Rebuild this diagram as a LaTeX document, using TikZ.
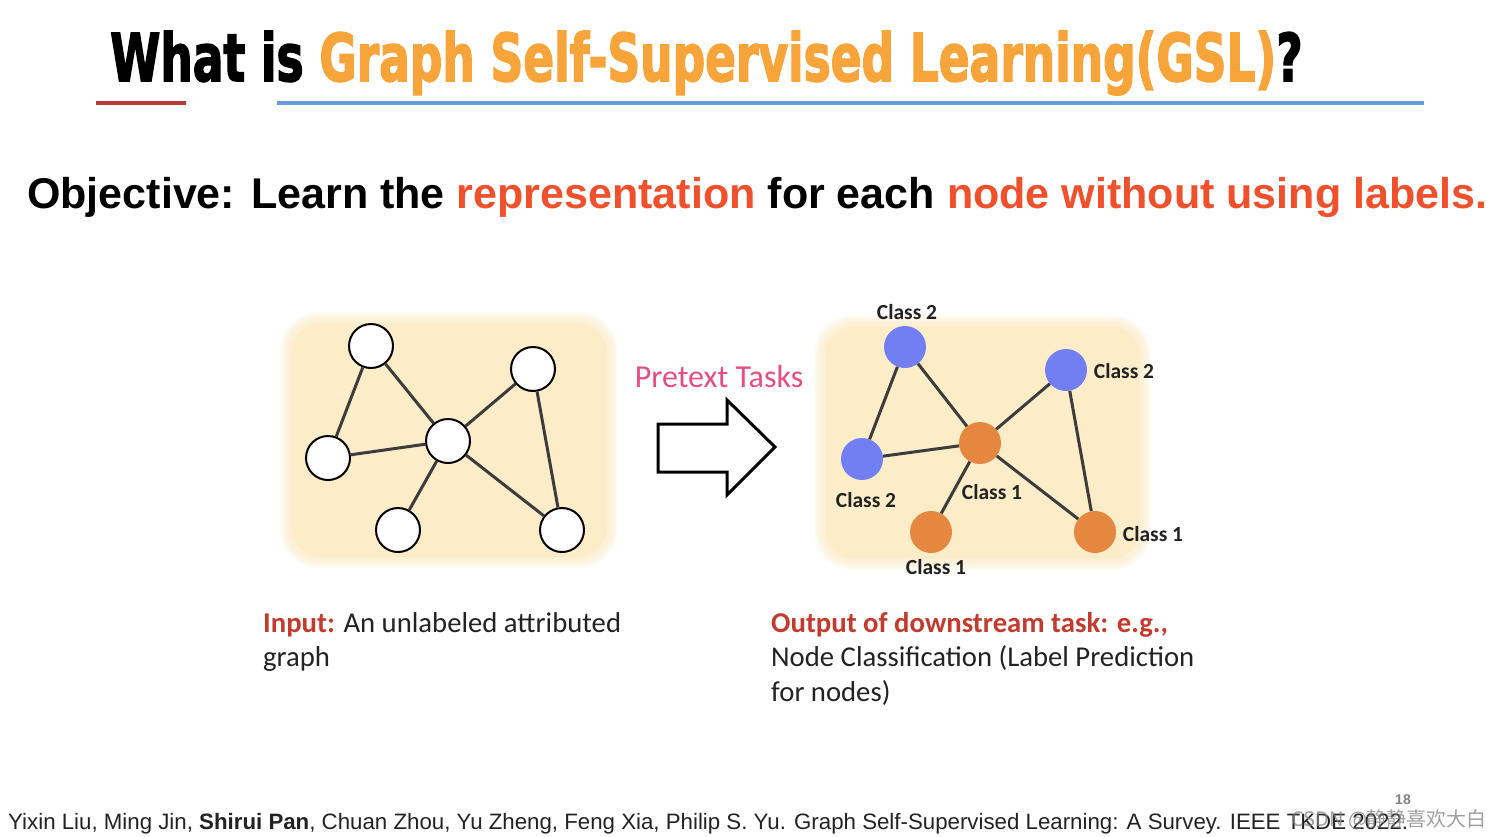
\documentclass[tikz,border=0pt]{standalone}
\usepackage{fontspec}
\usepackage{graphicx}
\setmainfont{Carlito}
\newfontfamily\arialf{Liberation Sans}
\newfontfamily\titlef[FakeBold=2.5]{DejaVu Sans Condensed Bold}
\newfontfamily\cjkf{Noto Sans CJK SC}
\definecolor{titleorange}{HTML}{F7A43A}
\definecolor{darkredline}{HTML}{B83A34}
\definecolor{blueline}{HTML}{6A9BE0}
\definecolor{objred}{HTML}{F0502C}
\definecolor{inputred}{HTML}{C23B2E}
\definecolor{pretextpink}{HTML}{E54E7E}
\definecolor{nodeblue}{HTML}{717FF2}
\definecolor{nodeorange}{HTML}{E6873F}
\definecolor{edgegray}{HTML}{3C3C3C}
\definecolor{boxc}{HTML}{FCEDC8}
\definecolor{textdark}{HTML}{222222}
\tikzset{
  wnode/.style={circle, draw=black, line width=2pt, fill=white, minimum size=44pt, inner sep=0pt},
  bnode/.style={circle, fill=nodeblue, minimum size=42pt, inner sep=0pt},
  onode/.style={circle, fill=nodeorange, minimum size=42pt, inner sep=0pt},
  gedge/.style={draw=edgegray, line width=3pt},
  clabel/.style={inner sep=0pt, text=textdark, font=\bfseries\fontsize{21.5}{24}\selectfont},
  bodytext/.style={anchor=base west, inner sep=0pt, align=left, text=textdark, font=\fontsize{28.7}{34.5}\selectfont},
}
\begin{document}
\begin{tikzpicture}[x=1pt,y=-1pt]
\fill[white] (0,0) rectangle (1497,836);
\useasboundingbox (0,0) rectangle (1497,836);

% title
\node[anchor=base west, inner sep=0pt] (title) at (110,81)
  {\resizebox{1192pt}{50pt}{\titlef What is \textcolor{titleorange}{Graph Self-Supervised Learning(GSL)}?}};
\draw[darkredline, line width=4pt] (96,103) -- (186,103);
\draw[blueline, line width=4pt] (277,103) -- (1424,103);

% objective
\node[anchor=base west, inner sep=0pt] (obj) at (27,208)
  {\resizebox{1460pt}{!}{\arialf\bfseries\fontsize{46}{50}\selectfont Objective: Learn the \textcolor{objred}{representation} for each \textcolor{objred}{node without using labels.}}};

% boxes with soft edges
\foreach \i in {0,...,6}{
  \fill[boxc, opacity=0.16, rounded corners={30+1.5*\i}]
    ({289-1.5*\i},{321-1.5*\i}) rectangle ({609+1.5*\i},{559+1.5*\i});
  \fill[boxc, opacity=0.16, rounded corners={30+1.5*\i}]
    ({823-1.5*\i},{324-1.5*\i}) rectangle ({1142+1.5*\i},{561+1.5*\i});
}
\fill[boxc, rounded corners=30] (291,323) rectangle (607,557);
\fill[boxc, rounded corners=30] (825,326) rectangle (1140,559);

% left graph
\node[wnode] (a1) at (371,346) {};
\node[wnode] (a2) at (533,369) {};
\node[wnode] (a3) at (328,458) {};
\node[wnode] (a4) at (448,441) {};
\node[wnode] (a5) at (398,530) {};
\node[wnode] (a6) at (562,530) {};
\draw[gedge] (a1) -- (a3);
\draw[gedge] (a1) -- (a4);
\draw[gedge] (a3) -- (a4);
\draw[gedge] (a4) -- (a2);
\draw[gedge] (a2) -- (a6);
\draw[gedge] (a4) -- (a6);
\draw[gedge] (a4) -- (a5);

% right graph
\node[bnode] (b1) at (905,347) {};
\node[bnode] (b2) at (1066,370) {};
\node[bnode] (b3) at (862,459) {};
\node[onode] (b4) at (980,443) {};
\node[onode] (b5) at (931,532) {};
\node[onode] (b6) at (1095,532) {};
\draw[gedge] (b1) -- (b3);
\draw[gedge] (b1) -- (b4);
\draw[gedge] (b3) -- (b4);
\draw[gedge] (b4) -- (b2);
\draw[gedge] (b2) -- (b6);
\draw[gedge] (b4) -- (b6);
\draw[gedge] (b4) -- (b5);
\node[clabel] (l1) at (907,312) {Class 2};
\node[clabel] (l2) at (1124,371) {Class 2};
\node[clabel] (l3) at (866,500) {Class 2};
\node[clabel] (l4) at (992,492) {Class 1};
\node[clabel] (l5) at (936,567) {Class 1};
\node[clabel] (l6) at (1153,534) {Class 1};

% pretext arrow
\node[inner sep=0pt, text=pretextpink, font=\fontsize{32}{36}\selectfont] (pt) at (719,377) {Pretext Tasks};
\coordinate (s1) at (658,424);
\coordinate (s2) at (727,424);
\coordinate (h1) at (727,400);
\coordinate (tip) at (775,447);
\coordinate (h2) at (727,495);
\coordinate (s3) at (727,472);
\coordinate (s4) at (658,472);
\draw[line width=3pt, line join=miter, fill=white] (s1) -- (s2) -- (h1) -- (tip) -- (h2) -- (s3) -- (s4) -- cycle;

% captions (base anchor = last line's baseline)
\node[bodytext] (inp) at (263,666.5)
  {\textcolor{inputred}{\bfseries Input:} An unlabeled attributed\\graph};
\node[bodytext] (outp) at (771,701)
  {\textcolor{inputred}{\bfseries Output of downstream task: e.g.,}\\Node Classification (Label Prediction\\for nodes)};

% footer
\node[anchor=base west, inner sep=0pt, text=textdark] (foot) at (8,829)
  {\resizebox{1400pt}{!}{\arialf\fontsize{24}{28}\selectfont Yixin Liu, Ming Jin, \textbf{Shirui Pan}, Chuan Zhou, Yu Zheng, Feng Xia, Philip S. Yu. Graph Self-Supervised Learning: A Survey. IEEE TKDE 2022.}};
\node[inner sep=0pt, text=gray, font=\arialf\bfseries\fontsize{14}{16}\selectfont] (pg) at (1403,800) {18};
\node[anchor=base west, inner sep=0pt, text=gray, opacity=0.75, font=\fontsize{20}{24}\selectfont] (wm) at (1291,826) {\cjkf CSDN @静静喜欢大白};
\end{tikzpicture}
\end{document}
